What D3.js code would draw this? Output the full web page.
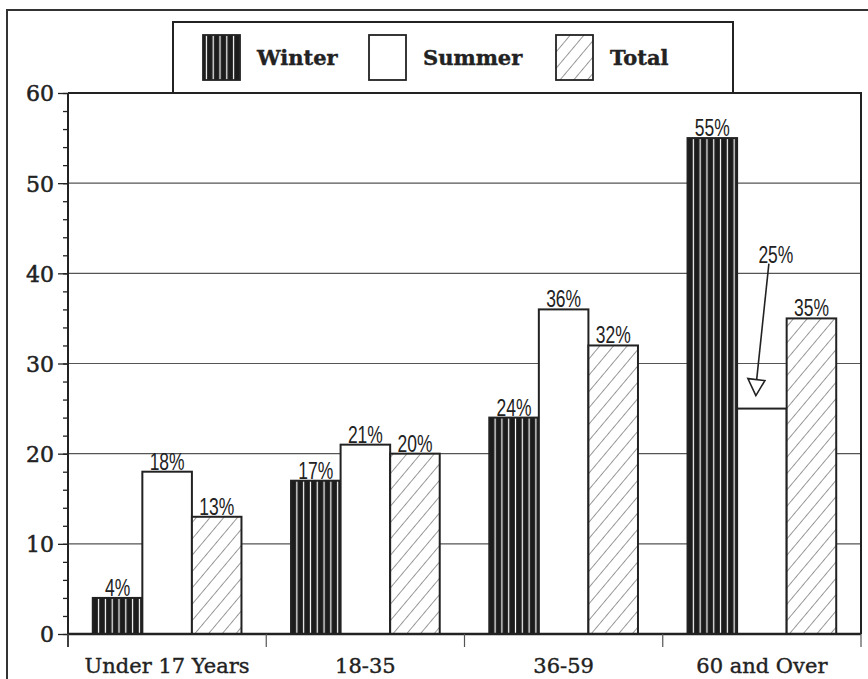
<!DOCTYPE html>
<html>
<head>
<meta charset="utf-8">
<script src="https://cdn.jsdelivr.net/npm/d3@7"></script>
<style>
  html, body { margin: 0; padding: 0; background: #fff; }
  svg { display: block; }
</style>
</head>
<body>
<svg id="chart" width="868" height="679"></svg>
<script>
// Share of respondents by age group, winter vs summer vs total
const categories = ["Under 17 Years", "18-35", "36-59", "60 and Over"];
const seriesNames = ["Winter", "Summer", "Total"];
const winter = [4, 17, 24, 55];
const summer = [18, 21, 36, 25];
const total = [13, 20, 32, 35];
const yTicks = [0, 10, 20, 30, 40, 50, 60];

const seriesValues = { Winter: winter, Summer: summer, Total: total };

const W = 868, H = 679;
const plot = { left: 68, right: 861, top: 93, bottom: 634 };
const ink = "#222";
const serif = "'DejaVu Serif', 'Liberation Serif', serif";
const sans = "'Liberation Sans', Arial, sans-serif";

const svg = d3.select("#chart");
const defs = svg.append("defs");

// Winter: black fill with thin white vertical stripes
const pw = defs.append("pattern")
  .attr("id", "pat-winter").attr("patternUnits", "userSpaceOnUse")
  .attr("width", 6.8).attr("height", 10);
pw.append("rect").attr("width", 6.8).attr("height", 10).attr("fill", "#1c1c1c");
pw.append("line").attr("x1", 3.4).attr("x2", 3.4).attr("y1", 0).attr("y2", 10)
  .attr("stroke", "#fff").attr("stroke-width", 1.2);

// Total: diagonal hatching
const pt = defs.append("pattern")
  .attr("id", "pat-total").attr("patternUnits", "userSpaceOnUse")
  .attr("width", 10.5).attr("height", 10.5)
  .attr("patternTransform", "rotate(40)");
pt.append("rect").attr("width", 10.5).attr("height", 10.5).attr("fill", "#fff");
pt.append("line").attr("x1", 0).attr("x2", 0).attr("y1", 0).attr("y2", 10.5)
  .attr("stroke", "#333").attr("stroke-width", 1);

const fills = { Winter: "url(#pat-winter)", Summer: "#fff", Total: "url(#pat-total)" };

// Scales
const x0 = d3.scaleBand().domain(categories).range([plot.left, plot.right]).padding(0);
const bw = x0.bandwidth();
const x1 = d3.scaleBand().domain(seriesNames).range([bw * 0.125, bw * 0.875]).padding(0);
const y = d3.scaleLinear().domain([0, 60]).range([plot.bottom, plot.top]);

// Outer frame
svg.append("path")
  .attr("d", `M7,${H + 2} V10 H${W + 2}`)
  .attr("fill", "none").attr("stroke", "#333").attr("stroke-width", 2);

// Gridlines
svg.append("g").selectAll("line")
  .data(yTicks.filter(t => t > 0 && t < 60))
  .join("line")
  .attr("x1", plot.left).attr("x2", plot.right)
  .attr("y1", d => y(d)).attr("y2", d => y(d))
  .attr("stroke", "#555").attr("stroke-width", 1.2);

// Y axis with minor ticks every 2
const yAxisMinor = d3.axisLeft(y).tickValues(d3.range(0, 61, 2)).tickSize(5).tickFormat("");
svg.append("g").attr("transform", `translate(${plot.left},0)`).call(yAxisMinor)
  .call(g => g.select(".domain").remove())
  .selectAll("line").attr("stroke", ink).attr("stroke-width", 1.3);

const yAxis = d3.axisLeft(y).tickValues(yTicks).tickSize(10).tickPadding(4);
svg.append("g").attr("transform", `translate(${plot.left},0)`).call(yAxis)
  .call(g => g.select(".domain").remove())
  .call(g => g.selectAll("line").attr("stroke", ink).attr("stroke-width", 1.3))
  .call(g => g.selectAll("text")
    .attr("font-family", serif).attr("font-size", 22).attr("fill", ink)
    .attr("stroke", ink).attr("stroke-width", 0.5)
    .attr("dy", "0.36em"));

// Plot frame: left axis line, top and right borders
svg.append("line").attr("x1", plot.left).attr("x2", plot.left)
  .attr("y1", plot.top).attr("y2", plot.bottom + 13)
  .attr("stroke", ink).attr("stroke-width", 2);
svg.append("path")
  .attr("d", `M${plot.left},${plot.top} H${plot.right} V${plot.bottom}`)
  .attr("fill", "none").attr("stroke", ink).attr("stroke-width", 2);

// Bars
const groups = svg.append("g").selectAll("g")
  .data(categories)
  .join("g")
  .attr("transform", d => `translate(${x0(d)},0)`);

groups.selectAll("rect")
  .data((c, i) => seriesNames.map(s => ({ s, v: seriesValues[s][i], c })))
  .join("rect")
  .attr("x", d => x1(d.s))
  .attr("width", x1.bandwidth())
  .attr("y", d => y(d.v))
  .attr("height", d => y(0) - y(d.v))
  .attr("fill", d => fills[d.s])
  .attr("stroke", ink).attr("stroke-width", 2);

// Value labels in a condensed sans (the 60+ summer value is called out with an arrow)
const isCallout = d => d.c === "60 and Over" && d.s === "Summer";
groups.selectAll("text.val")
  .data((c, i) => seriesNames.map(s => ({ s, v: seriesValues[s][i], c })))
  .join("text")
  .attr("class", "val")
  .attr("transform", d => {
    const tx = x1(d.s) + x1.bandwidth() / 2 + (isCallout(d) ? 14 : 0);
    const ty = isCallout(d) ? y(d.v) - 146 : y(d.v) - 2;
    return `translate(${tx},${ty}) scale(0.76,1)`;
  })
  .attr("text-anchor", "middle")
  .attr("font-family", sans).attr("font-size", 23).attr("fill", ink)
  .text(d => d.v + "%");

// Callout arrow
{
  const c = "60 and Over", s = "Summer";
  const v = summer[categories.indexOf(c)];
  const cx = x0(c) + x1(s) + x1.bandwidth() / 2;
  const yTop = y(v) - 145, yTip = y(v) - 13;
  const x1a = cx + 7, x2a = cx - 6;
  const g = svg.append("g");
  g.append("line").attr("x1", x1a).attr("y1", yTop).attr("x2", x2a + 0.8).attr("y2", yTip - 16)
    .attr("stroke", ink).attr("stroke-width", 1.6);
  g.append("path")
    .attr("d", `M${x2a},${yTip} L${x2a - 8},${yTip - 17} L${x2a + 9},${yTip - 15} Z`)
    .attr("fill", "#fff").attr("stroke", ink).attr("stroke-width", 1.6);
}

// X axis baseline, category separators, labels
svg.append("line").attr("x1", plot.left).attr("x2", plot.right)
  .attr("y1", plot.bottom).attr("y2", plot.bottom)
  .attr("stroke", ink).attr("stroke-width", 2.6);

const seps = categories.map(c => x0(c)).concat([plot.right]);
svg.append("g").selectAll("line").data(seps).join("line")
  .attr("x1", d => d).attr("x2", d => d)
  .attr("y1", plot.bottom).attr("y2", plot.bottom + 13)
  .attr("stroke", "#555").attr("stroke-width", 1.2);

svg.append("g").selectAll("text").data(categories).join("text")
  .attr("x", d => x0(d) + bw / 2)
  .attr("y", 673)
  .attr("text-anchor", "middle")
  .attr("font-family", serif).attr("font-size", 21).attr("fill", ink)
  .attr("stroke", ink).attr("stroke-width", 0.4)
  .text(d => d);

// Legend
const legend = svg.append("g");
legend.append("rect")
  .attr("x", 173).attr("y", 22).attr("width", 560).attr("height", plot.top - 22)
  .attr("fill", "#fff").attr("stroke", ink).attr("stroke-width", 2);

const legendLeft = [203, 369, 556];
const item = legend.selectAll("g.item").data(seriesNames).join("g")
  .attr("class", "item")
  .attr("transform", (d, i) => `translate(${legendLeft[i]},35)`);
item.append("rect")
  .attr("width", 37).attr("height", 45)
  .attr("fill", d => fills[d])
  .attr("stroke", ink).attr("stroke-width", 1.8);
item.append("text")
  .attr("x", 54).attr("y", 30)
  .attr("font-family", serif).attr("font-size", 21).attr("font-weight", "bold")
  .attr("fill", ink).attr("stroke", ink).attr("stroke-width", 0.4)
  .text(d => d);
</script>
</body>
</html>
